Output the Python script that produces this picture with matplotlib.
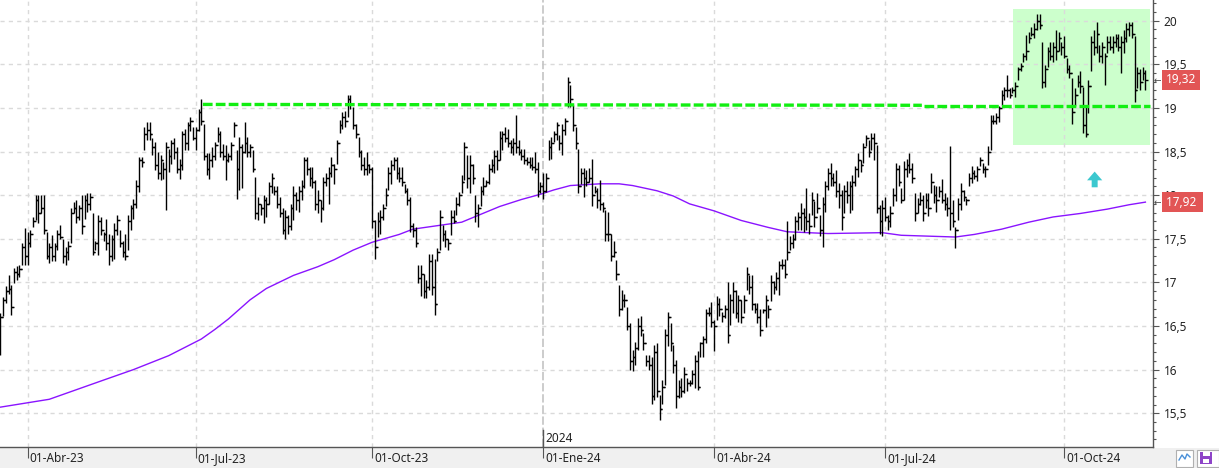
import numpy as np
import pandas as pd
import matplotlib
matplotlib.use("Agg")
from matplotlib import pyplot as plt
from matplotlib import transforms
from matplotlib.collections import LineCollection
from matplotlib.patches import Rectangle, Polygon

plt.rcParams["font.family"] = ["Noto Sans", "DejaVu Sans"]
plt.rcParams["lines.scale_dashes"] = False

# daily bars: (high, low, close)
bars_2023_mar = [
    (16.65, 16.17, 16.60), (16.83, 16.61, 16.80), (16.96, 16.76, 16.90), (17.08, 16.87, 16.92),
    (16.97, 16.63, 16.72), (17.16, 16.99, 17.12), (17.19, 17.03, 17.10), (17.20, 17.06, 17.15),
    (17.45, 17.20, 17.40), (17.62, 17.20, 17.30),
]
bars_2023_q2 = [
    (17.58, 17.20, 17.45), (17.60, 17.41, 17.55), (17.75, 17.64, 17.70), (18.00, 17.71, 17.95),
    (18.00, 17.68, 17.80), (18.00, 17.79, 17.85), (18.00, 17.56, 17.60), (17.58, 17.27, 17.30),
    (17.45, 17.22, 17.40), (17.54, 17.24, 17.30), (17.45, 17.24, 17.42), (17.60, 17.37, 17.55),
    (17.66, 17.50, 17.52), (17.50, 17.22, 17.30), (17.41, 17.20, 17.35), (17.47, 17.26, 17.42),
    (17.85, 17.45, 17.80), (17.92, 17.79, 17.85), (17.94, 17.68, 17.75), (17.89, 17.71, 17.85),
    (18.00, 17.56, 17.65), (18.00, 17.73, 17.95), (18.02, 17.81, 17.90), (18.02, 17.83, 17.98),
    (17.79, 17.31, 17.35), (17.48, 17.37, 17.45), (17.77, 17.31, 17.70), (17.75, 17.54, 17.60),
    (17.58, 17.47, 17.55), (17.73, 17.37, 17.45), (17.56, 17.20, 17.30), (17.54, 17.24, 17.50),
    (17.68, 17.27, 17.60), (17.77, 17.54, 17.72), (17.60, 17.41, 17.45), (17.47, 17.29, 17.35),
    (17.56, 17.26, 17.30), (17.77, 17.37, 17.70), (17.89, 17.60, 17.85), (17.96, 17.73, 17.90),
    (18.17, 17.85, 18.10), (18.44, 18.04, 18.40), (18.44, 18.32, 18.38), (18.78, 18.52, 18.70),
    (18.84, 18.63, 18.75), (18.84, 18.63, 18.70), (18.65, 18.46, 18.55), (18.61, 18.29, 18.35),
    (18.50, 18.19, 18.25), (18.46, 18.17, 18.40), (18.38, 18.19, 18.30), (18.61, 17.83, 18.55),
    (18.53, 18.27, 18.45), (18.63, 18.36, 18.60), (18.65, 18.42, 18.50), (18.55, 18.25, 18.30),
    (18.42, 18.19, 18.35), (18.74, 18.29, 18.70), (18.76, 18.52, 18.60), (18.84, 18.52, 18.80),
    (18.90, 18.73, 18.85), (18.78, 18.63, 18.65),
]
bars_2023_q3 = [
    (18.78, 18.52, 18.75), (18.99, 18.74, 18.95), (19.10, 18.80, 18.85), (18.82, 18.40, 18.45),
    (18.48, 18.23, 18.30), (18.48, 18.19, 18.40), (18.55, 18.32, 18.45), (18.61, 18.40, 18.58),
    (18.78, 18.61, 18.70), (18.74, 18.44, 18.50), (18.59, 18.40, 18.45), (18.57, 18.17, 18.40),
    (18.48, 18.38, 18.45), (18.61, 18.40, 18.58), (18.84, 18.67, 18.80), (18.52, 17.96, 18.30),
    (18.67, 18.06, 18.55), (18.59, 18.08, 18.50), (18.84, 18.48, 18.60), (18.67, 18.44, 18.50),
    (18.59, 18.44, 18.55), (18.52, 18.27, 18.30), (18.21, 17.73, 17.80), (17.98, 17.71, 17.90),
    (17.90, 17.77, 17.85), (18.00, 17.68, 17.95), (17.98, 17.75, 17.90), (18.15, 17.90, 18.10),
    (18.25, 18.02, 18.20), (18.11, 18.00, 18.05), (18.10, 17.85, 17.90), (17.98, 17.75, 17.80),
    (17.85, 17.56, 17.60), (17.83, 17.50, 17.75), (17.77, 17.56, 17.65), (17.90, 17.60, 17.85),
    (18.10, 17.71, 18.00), (18.04, 17.83, 17.95), (18.11, 17.81, 18.05), (18.17, 17.94, 18.10),
    (18.44, 18.08, 18.40), (18.44, 18.23, 18.30), (18.32, 18.11, 18.20), (18.32, 18.08, 18.15),
    (18.17, 17.83, 17.90), (18.06, 17.79, 17.95), (17.94, 17.69, 17.85), (18.21, 17.83, 18.15),
    (18.25, 18.11, 18.20), (18.32, 17.90, 18.25), (18.44, 18.21, 18.35), (18.36, 18.13, 18.30),
    (18.63, 18.36, 18.60), (18.86, 18.71, 18.80), (18.95, 18.76, 18.90), (18.97, 18.78, 18.85),
    (19.15, 18.90, 19.10), (19.15, 18.99, 19.05), (19.01, 18.76, 18.80), (18.82, 18.65, 18.70),
    (18.67, 18.44, 18.50), (18.52, 18.29, 18.35), (18.44, 18.23, 18.30), (18.50, 18.23, 18.35),
    (18.36, 18.25, 18.30),
]
bars_2023_q4 = [
    (18.32, 17.62, 17.70), (17.71, 17.27, 17.40), (17.81, 17.52, 17.70), (17.83, 17.56, 17.75),
    (17.90, 17.71, 17.85), (18.08, 17.87, 18.00), (18.32, 18.06, 18.25), (18.40, 18.13, 18.35),
    (18.44, 18.29, 18.40), (18.44, 18.19, 18.25), (18.32, 18.15, 18.20), (18.32, 18.11, 18.15),
    (18.13, 18.02, 18.05), (18.08, 17.89, 17.95), (17.98, 17.58, 17.65), (17.68, 17.52, 17.60),
    (17.64, 17.41, 17.45), (17.20, 16.99, 17.05), (17.20, 16.84, 17.10), (17.10, 16.82, 16.90),
    (17.03, 16.82, 16.95), (17.33, 16.91, 17.25), (17.33, 16.86, 16.95), (17.27, 16.63, 16.75),
    (17.39, 17.25, 17.35), (17.83, 17.37, 17.75), (17.66, 17.48, 17.55), (17.60, 17.41, 17.50),
    (17.50, 17.37, 17.45), (17.83, 17.54, 17.75), (17.83, 17.68, 17.70), (17.98, 17.77, 17.90),
    (18.04, 17.87, 18.00), (18.23, 18.02, 18.15), (18.61, 18.17, 18.55), (18.46, 18.08, 18.20),
    (18.46, 18.02, 18.35), (18.36, 18.13, 18.20), (18.00, 17.69, 17.80), (17.90, 17.64, 17.85),
    (18.11, 17.87, 18.05), (18.21, 18.00, 18.10), (18.17, 18.10, 18.15), (18.36, 18.13, 18.30),
    (18.42, 18.27, 18.35), (18.52, 18.25, 18.45), (18.52, 18.29, 18.40), (18.73, 18.40, 18.65),
    (18.74, 18.52, 18.70), (18.78, 18.61, 18.65), (18.76, 18.55, 18.60), (18.63, 18.48, 18.55),
    (18.65, 18.46, 18.60), (18.92, 18.48, 18.55), (18.63, 18.46, 18.50), (18.53, 18.40, 18.45),
    (18.53, 18.36, 18.40), (18.44, 18.34, 18.38), (18.44, 18.31, 18.35), (18.44, 18.29, 18.32),
    (18.50, 18.25, 18.30), (18.38, 17.98, 18.05), (18.15, 18.02, 18.10),
]
bars_2024_q1 = [
    (18.25, 17.96, 18.05), (18.25, 18.04, 18.20), (18.63, 18.40, 18.55), (18.67, 18.42, 18.60),
    (18.73, 18.61, 18.70), (18.84, 18.63, 18.80), (18.69, 18.52, 18.60), (18.82, 18.46, 18.75),
    (18.88, 18.69, 18.85), (19.35, 19.01, 19.30), (19.26, 19.01, 19.10), (19.03, 18.74, 18.80),
    (18.78, 18.53, 18.60), (18.53, 18.02, 18.10), (18.31, 18.13, 18.25), (18.31, 17.98, 18.20),
    (18.29, 18.10, 18.15), (18.31, 18.15, 18.20), (18.42, 17.87, 18.00), (18.10, 18.02, 18.05),
    (18.08, 17.85, 17.95), (18.17, 17.83, 17.90), (17.92, 17.81, 17.85), (17.83, 17.48, 17.55),
    (17.81, 17.48, 17.55), (17.56, 17.24, 17.30), (17.47, 17.29, 17.35), (17.26, 17.03, 17.10),
    (16.97, 16.61, 16.70), (16.91, 16.68, 16.80), (16.87, 16.72, 16.80), (16.72, 16.45, 16.50),
    (16.53, 16.00, 16.10), (16.23, 15.98, 16.15), (16.32, 16.05, 16.25), (16.59, 16.23, 16.50),
    (16.61, 16.38, 16.45), (16.42, 16.23, 16.30), (16.17, 16.04, 16.10), (16.17, 16.00, 16.05),
    (16.15, 15.61, 15.70), (16.28, 15.65, 16.20), (16.30, 15.69, 15.75), (15.71, 15.42, 15.55),
    (15.88, 15.61, 15.80), (16.47, 15.82, 16.40), (16.66, 16.27, 16.60), (16.53, 16.21, 16.30),
    (16.28, 15.96, 16.05), (16.11, 15.56, 15.70), (15.88, 15.67, 15.80), (15.90, 15.69, 15.75),
    (16.03, 15.73, 15.95), (15.90, 15.75, 15.85), (15.88, 15.81, 15.85), (15.99, 15.84, 15.95),
    (16.17, 15.79, 16.10), (16.21, 15.77, 15.80), (16.32, 16.15, 16.30), (16.38, 16.15, 16.35),
    (16.70, 16.30, 16.65), (16.72, 16.61, 16.65), (16.78, 16.49, 16.55),
]
bars_2024_q2 = [
    (16.57, 16.21, 16.50), (16.84, 16.57, 16.75), (16.82, 16.61, 16.70), (16.66, 16.55, 16.62),
    (16.74, 16.59, 16.70), (17.01, 16.30, 16.40), (16.87, 16.51, 16.80), (17.01, 16.65, 16.90),
    (16.91, 16.59, 16.65), (16.86, 16.55, 16.80), (16.80, 16.53, 16.60), (16.86, 16.65, 16.80),
    (17.18, 16.91, 17.10), (17.08, 16.87, 16.95), (17.08, 16.68, 16.75), (16.76, 16.65, 16.70),
    (16.76, 16.53, 16.60), (16.70, 16.38, 16.45), (16.70, 16.65, 16.68), (16.86, 16.49, 16.80),
    (16.74, 16.59, 16.70), (17.08, 16.79, 17.00), (17.02, 16.87, 16.95), (17.12, 16.91, 17.05),
    (17.25, 16.85, 17.20), (17.27, 17.15, 17.20), (17.27, 17.05, 17.10), (17.70, 17.26, 17.35),
    (17.53, 17.37, 17.45), (17.56, 17.39, 17.50), (17.76, 17.49, 17.70), (17.81, 17.60, 17.75),
    (17.91, 17.60, 17.80), (17.85, 17.58, 17.75), (18.08, 17.60, 17.70), (17.79, 17.55, 17.65),
    (18.04, 17.77, 17.95), (17.93, 17.64, 17.75), (18.02, 17.79, 17.85), (17.77, 17.53, 17.60),
    (17.98, 17.41, 17.90), (18.16, 17.81, 18.10), (18.31, 18.06, 18.25), (18.37, 18.10, 18.20),
    (18.25, 18.10, 18.15), (18.29, 17.98, 18.05), (18.14, 17.85, 18.00), (18.06, 17.60, 17.75),
    (18.12, 17.79, 18.05), (18.16, 17.91, 18.00), (18.16, 17.79, 18.10), (18.23, 17.83, 18.15),
    (18.33, 18.10, 18.30), (18.48, 18.21, 18.40), (18.40, 18.27, 18.35), (18.60, 18.37, 18.55),
    (18.69, 18.56, 18.65), (18.63, 18.44, 18.50), (18.71, 18.52, 18.65), (18.71, 18.40, 18.60),
    (18.58, 17.79, 17.85), (17.89, 17.56, 17.70), (17.95, 17.53, 17.85),
]
bars_2024_q3 = [
    (17.98, 17.70, 17.75), (17.77, 17.60, 17.70), (17.87, 17.64, 17.80), (18.08, 17.87, 18.00),
    (18.37, 17.93, 18.30), (18.35, 18.10, 18.15), (18.08, 17.91, 17.95), (18.39, 17.95, 18.30),
    (18.42, 18.21, 18.35), (18.48, 18.25, 18.30), (18.37, 18.14, 18.20), (18.02, 17.70, 17.80),
    (17.97, 17.79, 17.90), (18.04, 17.89, 17.95), (18.00, 17.70, 17.80), (18.02, 17.85, 17.95),
    (18.02, 17.76, 17.85), (18.25, 18.02, 18.15), (18.12, 17.91, 18.00), (18.10, 17.81, 17.95),
    (18.10, 17.98, 18.05), (18.18, 17.91, 17.95), (18.02, 17.83, 17.90), (17.98, 17.76, 17.85),
    (18.56, 17.60, 17.80), (17.95, 17.64, 17.70), (17.64, 17.39, 17.60), (17.97, 17.72, 17.90),
    (18.14, 17.83, 18.05), (18.06, 17.93, 17.98), (17.97, 17.89, 17.95), (18.25, 18.10, 18.20),
    (18.33, 18.14, 18.25), (18.29, 18.19, 18.22), (18.33, 18.16, 18.30), (18.44, 18.33, 18.40),
    (18.37, 18.25, 18.30), (18.33, 18.21, 18.30), (18.56, 18.35, 18.50), (18.92, 18.52, 18.85),
    (18.92, 18.81, 18.85), (18.94, 18.81, 18.90), (19.02, 18.84, 19.00), (19.21, 19.02, 19.15),
    (19.24, 19.09, 19.20), (19.38, 19.13, 19.20), (19.23, 19.11, 19.15), (19.24, 19.17, 19.20),
    (19.30, 19.13, 19.25), (19.47, 19.32, 19.45), (19.51, 19.42, 19.48), (19.63, 19.53, 19.60),
    (19.84, 19.55, 19.65), (19.87, 19.74, 19.80), (19.93, 19.82, 19.85), (19.97, 19.80, 19.90),
    (20.08, 19.89, 20.00), (20.08, 19.91, 19.95), (19.76, 19.23, 19.30), (19.49, 19.24, 19.45),
    (19.70, 19.47, 19.65), (19.76, 19.55, 19.60), (19.76, 19.53, 19.70), (19.89, 19.55, 19.65),
    (19.87, 19.65, 19.80), (19.76, 19.61, 19.70),
]
bars_2024_oct_nov = [
    (19.82, 19.57, 19.60), (19.57, 19.40, 19.45), (19.49, 19.34, 19.40), (19.34, 18.82, 18.95),
    (19.23, 19.02, 19.15), (19.38, 19.24, 19.30), (19.42, 19.17, 19.25), (19.24, 18.71, 18.80),
    (19.02, 18.67, 18.70), (19.32, 18.94, 19.25), (19.82, 19.42, 19.75), (19.89, 19.61, 19.70),
    (19.99, 19.63, 19.85), (19.72, 19.53, 19.60), (19.76, 19.51, 19.70), (19.63, 19.26, 19.60),
    (19.82, 19.63, 19.75), (19.82, 19.66, 19.70), (19.82, 19.63, 19.75), (19.85, 19.70, 19.80),
    (19.85, 19.65, 19.70), (19.82, 19.40, 19.75), (19.89, 19.63, 19.80), (19.97, 19.76, 19.90),
    (19.99, 19.82, 19.95), (19.99, 19.80, 19.85), (19.82, 19.07, 19.20), (19.47, 19.23, 19.40),
    (19.45, 19.21, 19.30), (19.47, 19.32, 19.40), (19.44, 19.21, 19.32),
]

holidays = ["2023-04-07", "2023-04-10", "2023-05-01", "2023-12-25", "2023-12-26",
            "2024-01-01", "2024-03-29", "2024-04-01", "2024-05-01"]
quarter_starts = ["2023-04-01", "2023-07-01", "2023-10-01", "2024-01-01",
                  "2024-04-01", "2024-07-01", "2024-10-01"]
quarter_labels = ["01-Abr-23", "01-Jul-23", "01-Oct-23", "01-Ene-24",
                  "01-Abr-24", "01-Jul-24", "01-Oct-24"]
year_label = "2024"

# 200-session moving average, read at bar numbers
ma_idx = [0, 18, 38, 49, 62, 74, 79, 84, 92, 98, 108, 117, 123, 130, 137, 147, 152, 161, 170,
          177, 184, 192, 199, 204, 210, 221, 228, 233, 242, 248, 254, 263, 273, 283, 290, 305,
          325, 332, 342, 352, 359, 369, 379, 388, 398, 408, 416, 422]
ma_val = [15.57, 15.66, 15.88, 16.00, 16.16, 16.35, 16.46, 16.58, 16.80, 16.93, 17.08, 17.18,
          17.26, 17.37, 17.46, 17.55, 17.61, 17.65, 17.69, 17.78, 17.87, 17.95, 18.01, 18.06,
          18.11, 18.13, 18.13, 18.11, 18.05, 17.99, 17.90, 17.82, 17.71, 17.63, 17.58, 17.56,
          17.57, 17.54, 17.53, 17.52, 17.55, 17.61, 17.69, 17.75, 17.79, 17.84, 17.89, 17.92]

# resistance line (two drawn pieces) and the breakout box
res_x = [[74.6, 339.6], [340.4, 423.7]]
res_y = [[19.04, 19.03], [19.02, 19.02]]
box_x = [373.3, 423.8]
box_y = [18.57, 20.13]
arrow_x = 403.3
arrow_y = [18.09, 18.17, 18.27]

W, H = 1219, 468
fig = plt.figure(figsize=(W / 100, H / 100), dpi=100)

bg = fig.add_axes([0, 0, 1, 1], zorder=0)
bg.set_xlim(0, W)
bg.set_ylim(H, 0)
bg.axis("off")
bg.add_patch(Rectangle((0, 448), W, 20, fc="#f0f0f0", ec="none"))
# little toolbar icons bottom right
bg.add_patch(Rectangle((1176, 449.5), 17, 17, fc="white", ec="#b0b0b0", lw=0.8))
bg.plot([1179, 1182, 1185, 1187, 1190], [460, 455, 459, 454, 457], color="#4a90d9", lw=1)
bg.add_patch(Rectangle((1197, 449.5), 22, 17, fc="white", ec="#b0b0b0", lw=0.8))
bg.add_patch(Rectangle((1200, 452), 12, 12, fc="#8e44c8", ec="none"))
bg.add_patch(Rectangle((1202.5, 452), 7, 4, fc="white", ec="none"))
bg.add_patch(Rectangle((1203, 459), 6, 4, fc="white", ec="none"))

ax = fig.add_axes([0, 21 / H, 1153 / W, 447 / H], zorder=1)
ax.set_facecolor("white")

bars = (bars_2023_mar + bars_2023_q2 + bars_2023_q3 + bars_2023_q4
        + bars_2024_q1 + bars_2024_q2 + bars_2024_q3 + bars_2024_oct_nov)
hi = np.array([b[0] for b in bars])
lo = np.array([b[1] for b in bars])
cl = np.array([b[2] for b in bars])
op = np.concatenate([[cl[0]], cl[:-1]])
n = len(bars)
xi = np.arange(n)

dates = pd.bdate_range("2023-03-20", periods=n + 20)
dates = dates[~dates.isin(pd.to_datetime(holidays))][:n]
qpos = [int(np.searchsorted(dates, pd.Timestamp(q))) for q in quarter_starts]

ax.set_xlim(-0.17, 424.8)
ax.set_ylim(15.113, 20.237)

# grid
ax.set_axisbelow(True)
ax.set_yticks(np.arange(15.5, 20.01, 0.5))
ax.grid(axis="y", color="#dadada", lw=1, ls=(0, (3, 3)))
for k, p in enumerate(qpos):
    if quarter_labels[k].endswith(year_label[-2:]) and quarter_labels[k].startswith("01-Ene"):
        ax.axvline(p, color="#c4c4c4", lw=1.2, ls=(0, (6, 2)), zorder=0.6)
        ax.axvline(p, ymin=0, ymax=17 / 447, color="#555555", lw=1, zorder=0.7)
        ax.annotate(year_label, xy=(p, 0), xycoords=("data", "axes fraction"),
                    xytext=(2, 9), textcoords="offset pixels", fontsize=8.5,
                    color="#222222", va="center", ha="left", annotation_clip=False)
    else:
        ax.axvline(p, color="#dadada", lw=1, ls=(0, (3, 3)), zorder=0.6)

ax.add_patch(Rectangle((box_x[0], box_y[0]), box_x[1] - box_x[0], box_y[1] - box_y[0],
                       fc="#ccffcc", ec="none", zorder=0.2))

ax.plot(ma_idx, ma_val, color="#8a14ff", lw=1.0, zorder=2)

segs = []
for i in range(n):
    segs.append([(xi[i], lo[i]), (xi[i], hi[i])])
    segs.append([(xi[i] - 0.8, op[i]), (xi[i], op[i])])
    segs.append([(xi[i], cl[i]), (xi[i] + 0.8, cl[i])])
ax.add_collection(LineCollection(segs, colors="black", linewidths=1.0, zorder=3))

for sx, sy in zip(res_x, res_y):
    ax.plot(sx, sy, color="#12ee12", lw=2.4, ls=(0, (7, 2.3)), zorder=4,
            solid_capstyle="butt", dash_capstyle="butt")

hw, sw = 2.8, 1.1
ax.add_patch(Polygon([(arrow_x - sw, arrow_y[0]), (arrow_x - sw, arrow_y[1]),
                      (arrow_x - hw, arrow_y[1]), (arrow_x, arrow_y[2]),
                      (arrow_x + hw, arrow_y[1]), (arrow_x + sw, arrow_y[1]),
                      (arrow_x + sw, arrow_y[0])], closed=True,
                     fc="#3cc8cf", ec="none", zorder=4))

# axes styling
for s in ["top", "left"]:
    ax.spines[s].set_visible(False)
for s in ["right", "bottom"]:
    ax.spines[s].set_color("#555555")
    ax.spines[s].set_linewidth(1)

ax.yaxis.tick_right()
ax.set_yticks(np.arange(15.2, 20.25, 0.1), minor=True)
ax.set_yticklabels([f"{v:g}".replace(".", ",") for v in np.arange(15.5, 20.01, 0.5)])
ax.tick_params(axis="y", which="major", length=4.5, width=0.8, color="#555555",
               labelsize=8.5, labelcolor="#222222", pad=3)
ax.tick_params(axis="y", which="minor", length=2.5, width=0.8, color="#555555")

ax.set_xticks(qpos)
ax.set_xticklabels([])
ax.tick_params(axis="x", which="major", length=8, width=0.8, color="#555555")
for p, lab in zip(qpos, quarter_labels):
    ax.annotate(lab, xy=(p, 0), xycoords=("data", "axes fraction"), xytext=(2, -12),
                textcoords="offset pixels", fontsize=8.5, color="#222222",
                va="center", ha="left", annotation_clip=False)

# last value tags on the price scale
trans = transforms.blended_transform_factory(ax.transAxes, ax.transData)
for val, txt in [(cl[-1], f"{cl[-1]:.2f}"), (ma_val[-1], f"{ma_val[-1]:.2f} ")]:
    ax.text(1166 / 1153, val, txt.replace(".", ","), transform=trans, ha="left",
            va="center", color="white", fontsize=8.5, clip_on=False, zorder=6,
            bbox=dict(boxstyle="square,pad=0.3", fc="#e25555", ec="none"))
    ax.text(1154 / 1153, val, "\u2190", transform=trans, ha="left", va="center",
            color="#444444", fontsize=6.5, clip_on=False, zorder=6)

fig.savefig("out.png", dpi=100, facecolor="white")
